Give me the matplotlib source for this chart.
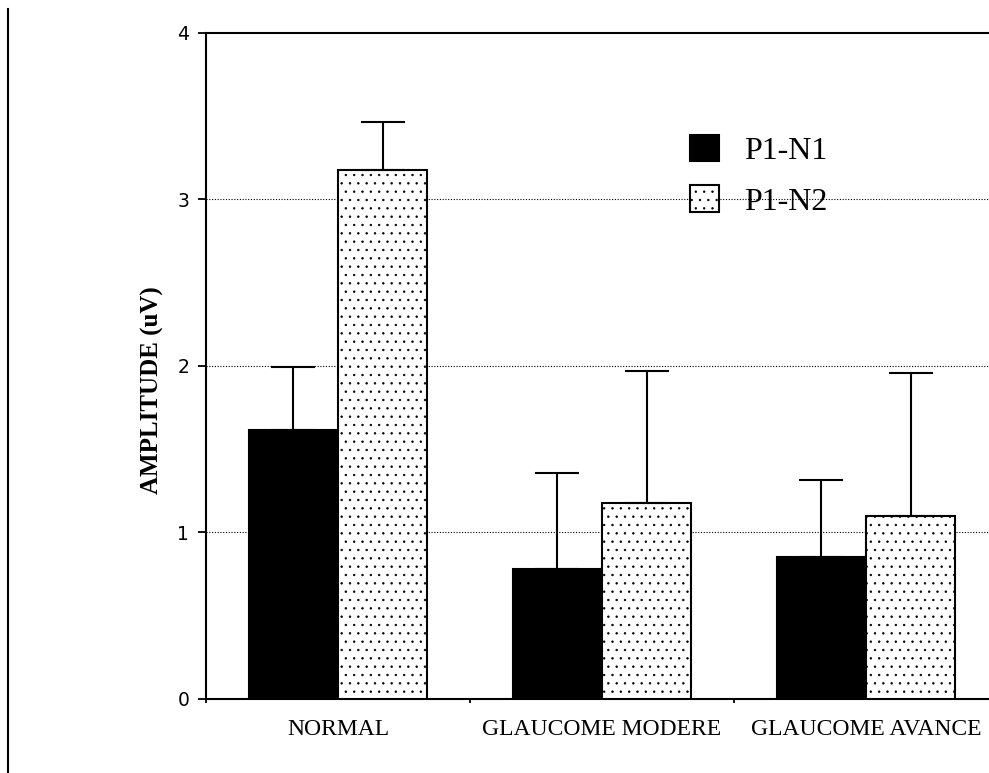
import numpy as np
import matplotlib
matplotlib.use('Agg')
import matplotlib.pyplot as plt
from matplotlib.lines import Line2D

# Données
groupes = ['NORMAL', 'GLAUCOME MODERE', 'GLAUCOME AVANCE']
p1n1 = [1.615, 0.78, 0.853]
p1n1_err = [0.38, 0.575, 0.46]
p1n2 = [3.178, 1.174, 1.10]
p1n2_err = [0.29, 0.792, 0.856]
yticks = [0, 1, 2, 3, 4]

plt.rcParams['hatch.linewidth'] = 0.5
plt.rcParams['hatch.color'] = 'black'

fig = plt.figure(figsize=(9.89, 7.73), dpi=100)
ax = fig.add_axes([206 / 989, 74.4 / 773, 792 / 989, 665.6 / 773])

x = np.arange(len(groupes))
w = 0.339
ax.bar(x - w / 2, p1n1, w, color='black', edgecolor='black', linewidth=1.5,
       label='P1-N1', zorder=3)
ax.bar(x + w / 2, p1n2, w, color='white', edgecolor='black', linewidth=1.5,
       hatch='..', label='P1-N2', zorder=3)

# Barres d'erreur (vers le haut seulement)
ax.errorbar(x - w / 2, p1n1, yerr=[np.zeros(3), p1n1_err], fmt='none',
            ecolor='black', elinewidth=1.5, capsize=15.8, capthick=1.5, zorder=4)
ax.errorbar(x + w / 2, p1n2, yerr=[np.zeros(3), p1n2_err], fmt='none',
            ecolor='black', elinewidth=1.5, capsize=15.8, capthick=1.5, zorder=4)

ax.set_xlim(-0.5, 2.5)
ax.set_ylim(0, 4)
ax.set_yticks(yticks)
ax.set_yticklabels([str(t) for t in yticks], fontsize=13.5, family='DejaVu Sans')
ax.tick_params(axis='y', direction='out', length=6, width=1.3, pad=6)

# Ticks x entre les groupes, étiquettes au centre
ax.set_xticks([-0.5, 0.5, 1.5])
ax.set_xticklabels([])
ax.tick_params(axis='x', which='major', direction='out', length=3, width=1.3)
ax.set_xticks(x, minor=True)
ax.set_xticklabels(groupes, minor=True, fontsize=17, family='Liberation Serif')
ax.tick_params(axis='x', which='minor', length=0, pad=15)

for y in [1, 2, 3]:
    ax.axhline(y, color='black', linestyle=(0, (1, 1.5)), linewidth=0.8, zorder=1)

for s in ['left', 'top', 'bottom']:
    ax.spines[s].set_linewidth(1.5)
ax.spines['right'].set_visible(False)

fig.text(152 / 989, 1 - 390 / 773, 'AMPLITUDE (uV)', rotation=90, ha='center',
         va='center', fontsize=18, fontweight='bold', family='Liberation Serif')

leg = ax.legend(loc='upper left', bbox_to_anchor=(674 / 989, 1 - 119 / 773),
                bbox_transform=fig.transFigure, frameon=False,
                prop={'family': 'Liberation Serif', 'size': 23},
                handlelength=0.9, handleheight=0.9, handletextpad=0.8,
                labelspacing=0.6, borderpad=0)

# ligne verticale à gauche
fig.add_artist(Line2D([8 / 989, 8 / 989], [0, 1 - 9 / 773], color='black',
                      linewidth=1.5, transform=fig.transFigure))

fig.savefig('out.png', dpi=100)
